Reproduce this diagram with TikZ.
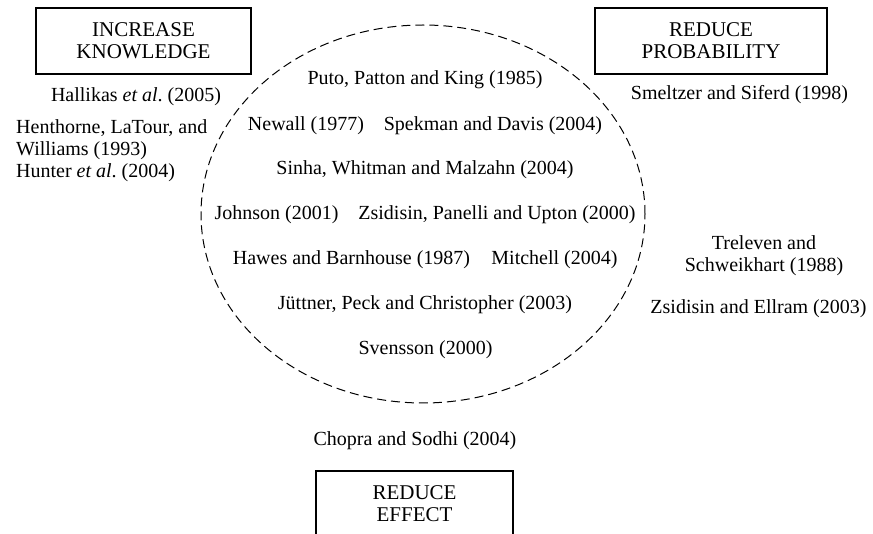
\documentclass[tikz,border=0pt]{standalone}
\usepackage{fontspec}
\setmainfont{Liberation Serif}
\usetikzlibrary{shapes.geometric}
\begin{document}
\begin{tikzpicture}[x=1pt,y=-1pt,
  every node/.style={inner sep=0pt, font=\fontsize{20}{22.5}\selectfont},
  catbox/.style={draw, line width=1.2pt, minimum height=66pt, align=center,
     font=\fontsize{21}{22}\selectfont},
  ref/.style={anchor=base, align=center},
  refl/.style={anchor=base west, align=left}]
\useasboundingbox (0,0) rectangle (873,534);
\clip (0,0) rectangle (873,534);
% dashed ellipse
\node[ellipse, draw, line width=1pt, dash pattern=on 9pt off 5pt,
      minimum width=444pt, minimum height=378pt] (ell) at (423,214) {};
% category boxes
\node[catbox, minimum width=215pt] (know) at (143.5,41) {INCREASE\\KNOWLEDGE};
\node[catbox, minimum width=232pt] (prob) at (711,41) {REDUCE\\PROBABILITY};
\node[catbox, minimum width=197pt] (eff) at (414.5,504) {REDUCE\\EFFECT};
% references outside the ellipse (base anchor = baseline of last line)
\node[ref] (hal) at (136,102) {Hallikas \textit{et al}.\ (2005)};
\node[refl] (hen) at (16,156) {Henthorne, LaTour, and\\Williams (1993)};
\node[refl] (hun) at (16,178) {Hunter \textit{et al}.\ (2004)};
\node[ref] (sme) at (739.5,100) {Smeltzer and Siferd (1998)};
\node[ref] (tre) at (764,272) {Treleven and\\Schweikhart (1988)};
\node[ref] (zel) at (758.5,314) {Zsidisin and Ellram (2003)};
\node[ref] (cho) at (415,446) {Chopra and Sodhi (2004)};
% references inside the ellipse
\node[ref] (put) at (425,85) {Puto, Patton and King (1985)};
\node[ref] (new) at (306,131) {Newall (1977)};
\node[ref] (spe) at (493,131) {Spekman and Davis (2004)};
\node[ref] (sin) at (425,175) {Sinha, Whitman and Malzahn (2004)};
\node[ref] (joh) at (276.5,220) {Johnson (2001)};
\node[ref] (zpu) at (497,220) {Zsidisin, Panelli and Upton (2000)};
\node[ref] (haw) at (351.5,265) {Hawes and Barnhouse (1987)};
\node[ref] (mit) at (554.5,265) {Mitchell (2004)};
\node[ref] (jut) at (425,310) {Jüttner, Peck and Christopher (2003)};
\node[ref] (sve) at (425.5,355) {Svensson (2000)};
\end{tikzpicture}
\end{document}
